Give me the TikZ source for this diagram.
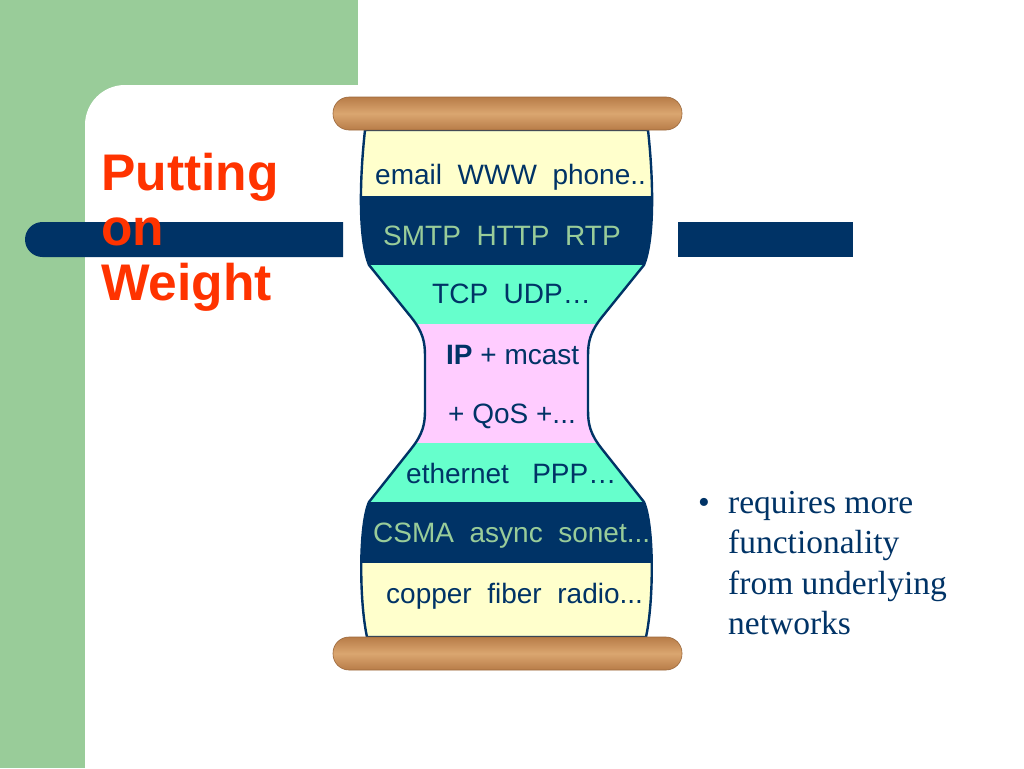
\documentclass[tikz,border=0pt]{standalone}
\usepackage{fontspec}
\setmainfont{Liberation Serif}
\setsansfont{Liberation Sans}
\usepackage{xcolor}
\usetikzlibrary{positioning}

\definecolor{navy}{RGB}{0,51,102}
\definecolor{sage}{RGB}{153,204,153}
\definecolor{cream}{RGB}{255,255,204}
\definecolor{aqua}{RGB}{102,255,204}
\definecolor{lilac}{RGB}{255,204,255}
\definecolor{flame}{RGB}{255,51,0}
\definecolor{woodlight}{RGB}{218,166,112}
\definecolor{wooddark}{RGB}{184,124,72}

\newcommand{\glassoutline}{(365,130) .. controls (359,185) and (359,240) .. (369,265)
  -- (411,317) .. controls (423,332) and (425,342) .. (425,356)
  -- (425,410) .. controls (425,424) and (423,434) .. (411,449)
  -- (369,502) .. controls (359,525) and (359,600) .. (367,637)
  -- (646,637) .. controls (654,600) and (654,525) .. (644,502)
  -- (602,449) .. controls (590,434) and (588,424) .. (588,410)
  -- (588,356) .. controls (588,342) and (590,332) .. (602,317)
  -- (644,265) .. controls (654,240) and (654,185) .. (648,130) -- cycle}

\begin{document}
\begin{tikzpicture}
  [x=1pt,y=-1pt,
   layer/.style={font=\sffamily\fontsize{28}{28}\selectfont,text=navy,inner sep=0pt,anchor=base west},
   darklayer/.style={layer,text=sage},
   title/.style={font=\sffamily\bfseries\fontsize{51.5}{51.5}\selectfont,text=flame,inner sep=0pt,anchor=base west},
   bullettext/.style={font=\fontsize{33.5}{33.5}\selectfont,text=navy,inner sep=0pt,anchor=base west},
   wood/.style={rounded corners=16pt,top color=wooddark,bottom color=wooddark,middle color=woodlight,draw=wooddark!85!black,line width=0.6pt}]

  % background
  \useasboundingbox (0,0) rectangle (1024,768);
  \clip (0,0) rectangle (1024,768);
  \fill[white] (0,0) rectangle (1024,768);
  \fill[sage] (0,0) rectangle (358,768);
  \fill[white,rounded corners=40pt] (85,85) rectangle (1100,850);

  % bars
  \fill[navy] (343,222) -- (42.5,222) arc[start angle=270,end angle=90,radius=17.5] -- (343,257) -- cycle;
  \fill[navy] (678,222) rectangle (853,257);

  % hourglass
  \begin{scope}
    \clip \glassoutline;
    \foreach \top/\bot/\col in {120/196/cream,196/265/navy,265/324/aqua,324/443/lilac,
                                443/502/aqua,502/563/navy,563/640/cream}
      \fill[\col] (300,\top) rectangle (720,\bot);
  \end{scope}
  \draw[navy,line width=2.4pt] \glassoutline;
  \draw[wood] (333,97) rectangle (682,130);
  \draw[wood] (333,637) rectangle (682,670);

  \node[layer] (app) at (375,184) {email\ \ WWW\ \ phone..};
  \node[darklayer] (proto) at (383,245) {SMTP\ \ HTTP\ \ RTP};
  \node[layer] (trans) at (432,303) {TCP\ \ UDP…};
  \node[layer] (ip) at (446,364) {\textbf{IP} + mcast};
  \node[layer] (qos) at (448,423) {+ QoS +...};
  \node[layer] (link) at (406,483) {ethernet\ \ \ PPP…};
  \node[darklayer] (mac) at (373,542) {CSMA\ \ async\ \ sonet...};
  \node[layer] (phys) at (386,603) {copper\ \ fiber\ \ radio...};

  % title
  \node[title] (t1) at (101,190) {Putting};
  \node[title] (t2) at (101,245) {on};
  \node[title] (t3) at (101,300) {Weight};

  % bullet
  \node[bullettext] (dot) at (698,513) {\textbullet};
  \foreach \txt [count=\i] in {requires more,functionality,from underlying,networks}
    \node[bullettext] (line\i) at (728,{472.5+40.5*\i}) {\txt};

\end{tikzpicture}
\end{document}
